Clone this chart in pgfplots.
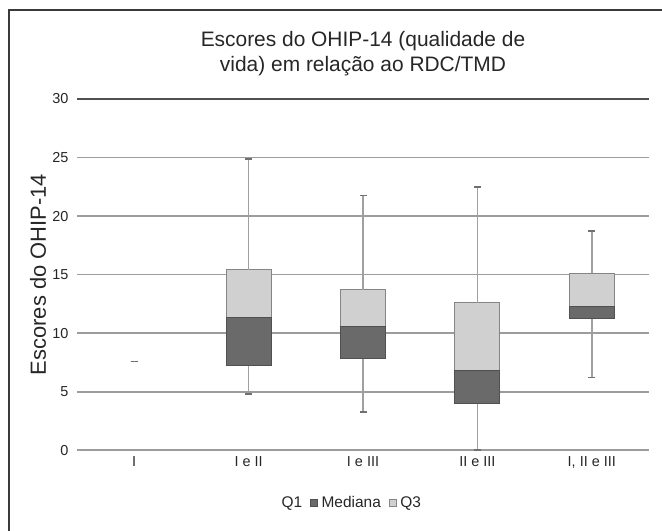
\documentclass[border=0pt]{standalone}
\usepackage{pgfplots}
\pgfplotsset{compat=1.18}
\usepackage{pgfplotstable}
\usepackage{fontspec}
\setmainfont{Liberation Sans}

\definecolor{darkbox}{HTML}{6A6A6A}
\definecolor{lightbox}{HTML}{D0D0D0}
\definecolor{darkedge}{HTML}{505050}
\definecolor{lightedge}{HTML}{858585}
\definecolor{gridc}{HTML}{9C9C9C}
\definecolor{gridtop}{HTML}{505050}
\definecolor{whisk}{HTML}{A0A0A0}
\definecolor{capc}{HTML}{707070}
\definecolor{txt}{HTML}{262626}
\definecolor{frame}{HTML}{3A3A3A}

\pgfplotsset{
  sqlegend/.style={legend image code/.code={\draw[##1] (0bp,-3.5bp) rectangle (7bp,3.5bp);}},
  nolegend/.style={legend image code/.code={\path (0bp,-3.5bp) rectangle (7bp,3.5bp);}},
  whiskers/.style={error bars/.cd, y dir=#1, y explicit,
    error bar style={draw=whisk, line width=1.6bp},
    error mark options={rotate=90, draw=capc, line width=1.6bp, mark size=3.5bp}},
}

% lower part: Q1 (invisible) and lower whisker length
\pgfplotstableread{
x q1 lo
1 7.22 2.44
2 7.80 4.56
3 3.97 3.97
4 11.24 5.04
0 7.56 0
}\lowpart
% box parts: median-Q1, Q3-median, upper whisker length
\pgfplotstableread{
x med q3 hi
1 4.14 4.04 9.50
2 2.76 3.14 8.05
3 2.83 5.80 9.90
4 1.00 2.86 3.60
}\boxpart

\begin{document}
\begin{tikzpicture}
\path[use as bounding box] (-77bp,-80.8bp) rectangle (585bp,450.2bp);
\draw[line width=1.5bp, color=frame] (-68bp,-95bp) -- (-68bp,440.2bp) -- (600bp,440.2bp);
\begin{axis}[
    scale only axis, width=572bp, height=351.2bp,
    ybar stacked, bar width=45bp,
    xmin=-0.5, xmax=4.5, ymin=0, ymax=30,
    xtick={0,...,4},
    xticklabels={I, I e II, I e III, II e III, {I, II e III}},
    ytick={0,5,...,25}, extra y ticks={30},
    extra y tick style={grid style={color=gridtop}},
    ymajorgrids, grid style={line width=1.8bp, color=gridc},
    major tick length=0pt,
    axis line style={draw=none},
    /pgf/number format/assume math mode=true,
    ticklabel style={font=\fontsize{14.5}{17}\selectfont, color=txt},
    yticklabel style={xshift=-5bp},
    xticklabel style={yshift=-3bp},
    title={Escores do OHIP-14 (qualidade de\\vida) em relação ao RDC/TMD},
    title style={at={(axis description cs:0.5,1)}, anchor=south, yshift=16.5bp,
        inner sep=0pt, align=center, font=\fontsize{21}{25}\selectfont, color=txt},
    ylabel={Escores do OHIP-14},
    every axis y label/.style={at={(axis description cs:-0.0682,0.5)}, rotate=90,
        anchor=center, font=\fontsize{22}{26}\selectfont, color=txt},
    legend columns=3,
    legend style={at={(axis description cs:0.472,-0.150)}, anchor=center,
        draw=none, fill=none, font=\fontsize{15.5}{18}\selectfont, text=txt,
        /tikz/every odd column/.append style={column sep=1.5bp},
        /tikz/every even column/.append style={column sep=6bp}},
]
\addplot[draw=none, fill=none, nolegend, whiskers=minus]
    table[x=x, y=q1, y error minus=lo] {\lowpart};
\addlegendentry{Q1}
\addplot[fill=darkbox, draw=darkedge, line width=1bp, sqlegend]
    table[x=x, y=med] {\boxpart};
\addlegendentry{Mediana}
\addplot[fill=lightbox, draw=lightedge, line width=1bp, sqlegend, whiskers=plus]
    table[x=x, y=q3, y error plus=hi] {\boxpart};
\addlegendentry{Q3}
\end{axis}
\end{tikzpicture}
\end{document}
